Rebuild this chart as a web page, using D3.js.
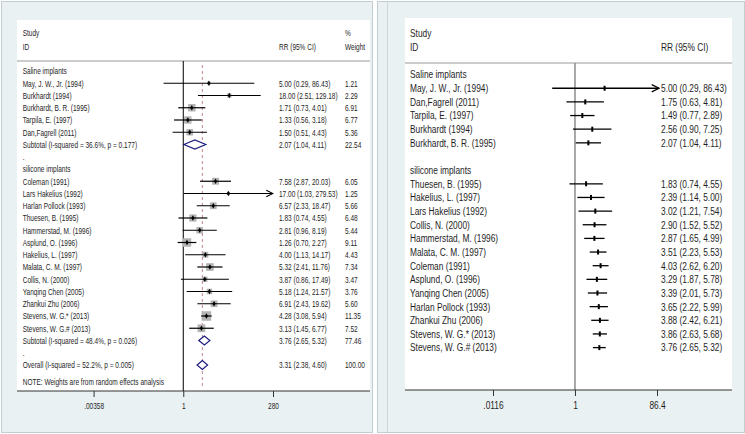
<!DOCTYPE html>
<html>
<head>
<meta charset="utf-8">
<script src="https://cdn.jsdelivr.net/npm/d3@7"></script>
<style>
  body { margin: 0; background: #fff; }
  text { font-family: "Liberation Sans", Arial, sans-serif; fill: #1e1e1e; }
</style>
</head>
<body>
<div id="chart"></div>
<script>
// Left panel: forest plot by implant type
var leftLabels = ["Saline implants", "May, J. W., Jr. (1994)", "Burkhardt (1994)", "Burkhardt, B. R. (1995)",
  "Tarpila, E. (1997)", "Dan,Fagrell (2011)", "Subtotal  (I-squared = 36.6%, p = 0.177)", ".",
  "silicone  implants", "Coleman (1991)", "Lars Hakelius (1992)", "Harlan Pollock (1993)", "Thuesen, B. (1995)",
  "Hammerstad, M. (1996)", "Asplund, O. (1996)", "Hakelius, L. (1997)", "Malata, C. M. (1997)", "Collis, N. (2000)",
  "Yanqing Chen (2005)", "Zhankui Zhu (2006)", "Stevens, W. G.* (2013)", "Stevens, W. G.# (2013)",
  "Subtotal  (I-squared = 48.4%, p = 0.026)", ".", "Overall  (I-squared = 52.2%, p = 0.005)"];
var leftKind = ["head", "study", "study", "study", "study", "study", "sub", "gap",
  "head", "study", "study", "study", "study", "study", "study", "study", "study", "study",
  "study", "study", "study", "study", "sub", "gap", "sub"];
var leftRR = [null, 5.00, 18.00, 1.71, 1.33, 1.50, 2.07, null,
  null, 7.58, 17.00, 6.57, 1.83, 2.81, 1.26, 4.00, 5.32, 3.87, 5.18, 6.91, 4.28, 3.13, 3.76, null, 3.31];
var leftLo = [null, 0.29, 2.51, 0.73, 0.56, 0.51, 1.04, null,
  null, 2.87, 1.03, 2.33, 0.74, 0.96, 0.70, 1.13, 2.41, 0.86, 1.24, 2.43, 3.08, 1.45, 2.65, null, 2.38];
var leftHi = [null, 86.43, 129.18, 4.01, 3.18, 4.43, 4.11, null,
  null, 20.03, 279.53, 18.47, 4.55, 8.19, 2.27, 14.17, 11.76, 17.49, 21.57, 19.62, 5.94, 6.77, 5.32, null, 4.60];
var leftWeight = [null, 1.21, 2.29, 6.91, 6.77, 5.36, 22.54, null,
  null, 6.05, 1.25, 5.66, 6.48, 5.44, 9.11, 4.43, 7.34, 3.47, 3.76, 5.60, 11.35, 7.52, 77.46, null, 100.00];
var leftTicks = [0.00358, 1, 280];
var leftTickLabels = [".00358", "1", "280"];
var overallRR = 3.31;

// Right panel: cumulative estimates
var rightLabels = ["Saline implants", "May, J. W., Jr. (1994)", "Dan,Fagrell (2011)", "Tarpila, E. (1997)",
  "Burkhardt (1994)", "Burkhardt, B. R. (1995)", "", "silicone  implants", "Thuesen, B. (1995)",
  "Hakelius, L. (1997)", "Lars Hakelius (1992)", "Collis, N. (2000)", "Hammerstad, M. (1996)",
  "Malata, C. M. (1997)", "Coleman (1991)", "Asplund, O. (1996)", "Yanqing Chen (2005)",
  "Harlan Pollock (1993)", "Zhankui Zhu (2006)", "Stevens, W. G.* (2013)", "Stevens, W. G.# (2013)"];
var rightRR = [null, 5.00, 1.75, 1.49, 2.56, 2.07, null, null, 1.83, 2.39, 3.02, 2.90, 2.87, 3.51, 4.03,
  3.29, 3.39, 3.65, 3.88, 3.86, 3.76];
var rightLo = [null, 0.29, 0.63, 0.77, 0.90, 1.04, null, null, 0.74, 1.14, 1.21, 1.52, 1.65, 2.23, 2.62,
  1.87, 2.01, 2.22, 2.42, 2.63, 2.65];
var rightHi = [null, 86.43, 4.81, 2.89, 7.25, 4.11, null, null, 4.55, 5.00, 7.54, 5.52, 4.99, 5.53, 6.20,
  5.78, 5.73, 5.99, 6.21, 5.68, 5.32];
var rightTicks = [0.0116, 1, 86.4];
var rightTickLabels = [".0116", "1", "86.4"];

var W = 745, H = 434;
var bg = "#eaf1f3";
var f2 = d3.format(".2f");

var svg = d3.select("#chart").append("svg")
  .attr("width", W).attr("height", H);

svg.append("defs").append("marker")
  .attr("id", "arrow")
  .attr("viewBox", "0 0 10 10").attr("refX", 9).attr("refY", 5)
  .attr("markerWidth", 7).attr("markerHeight", 7)
  .attr("orient", "auto")
  .append("path").attr("d", "M1,1 L9,5 L1,9").attr("fill", "none").attr("stroke", "#000").attr("stroke-width", 1.3);

// condensed text helper
function txt(g, x, y, s, size, sx, anchor) {
  return g.append("text")
    .attr("transform", `translate(${x},${y}) scale(${sx},1)`)
    .attr("dy", "0.35em")
    .attr("font-size", size + "px")
    .attr("text-anchor", anchor || "start")
    .text(s);
}

function panel(x0, x1, px0, px1, py0, py1) {
  var g = svg.append("g");
  g.append("rect").attr("x", x0 + 0.5).attr("y", 1.5).attr("width", x1 - x0 - 1).attr("height", H - 3)
    .attr("fill", bg).attr("stroke", "#c3ccd0");
  g.append("rect").attr("x", px0).attr("y", py0).attr("width", px1 - px0).attr("height", py1 - py0)
    .attr("fill", "#fff");
  return g;
}

// ---------- left panel ----------
var L = { px0: 17, px1: 370, py0: 20, py1: 391, head: 61 };
var gl = panel(1, 373, L.px0, L.px1, L.py0, L.py1);
var lfs = 9.6, lsx = 0.68;

var xL = d3.scaleLog().domain([0.00358, 280]).range([93.6, 273]);
var yL = d3.scaleLinear().domain([0, 24]).range([71, 365]);

gl.append("line").attr("x1", L.px0).attr("x2", L.px1).attr("y1", L.head).attr("y2", L.head)
  .attr("stroke", "#9a9a9a");

txt(gl, 22.7, 33, "Study", lfs, lsx);
txt(gl, 22.7, 47, "ID", lfs, lsx);
txt(gl, 279, 47, "RR (95% CI)", lfs, lsx);
txt(gl, 345, 33, "%", lfs, lsx);
txt(gl, 345, 47, "Weight", lfs, lsx);

// null line and overall line
gl.append("line").attr("x1", xL(1)).attr("x2", xL(1)).attr("y1", L.head).attr("y2", L.py1)
  .attr("stroke", "#000");
gl.append("line").attr("x1", xL(overallRR)).attr("x2", xL(overallRR)).attr("y1", L.head + 4).attr("y2", L.py1 - 4)
  .attr("stroke", "#c4868c").attr("stroke-dasharray", "3,3");

leftLabels.forEach(function(lab, i) {
  var y = yL(i);
  txt(gl, 22.7, y, lab, lfs, lsx);
  if (leftRR[i] == null) return;
  txt(gl, 279, y, f2(leftRR[i]) + " (" + f2(leftLo[i]) + ", " + f2(leftHi[i]) + ")", lfs, lsx);
  txt(gl, 345, y, f2(leftWeight[i]), lfs, lsx);
  if (leftKind[i] == "sub") {
    var a = xL(leftLo[i]), b = xL(leftHi[i]), c = xL(leftRR[i]);
    gl.append("path")
      .attr("d", `M${a},${y} L${c},${y - 4.5} L${b},${y} L${c},${y + 4.5} Z`)
      .attr("fill", "#fff").attr("stroke", "#1d1d80").attr("stroke-width", 1.2);
  } else {
    var side = 2.82 * Math.sqrt(leftWeight[i]);
    gl.append("rect")
      .attr("x", xL(leftRR[i]) - side / 2).attr("y", y - side / 2)
      .attr("width", side).attr("height", side)
      .attr("fill", "#b4b4b4");
    var hiX = xL(leftHi[i]);
    var arrow = hiX >= xL.range()[1] - 0.5;
    gl.append("line")
      .attr("x1", xL(leftLo[i])).attr("x2", hiX)
      .attr("y1", y).attr("y2", y)
      .attr("stroke", "#000").attr("stroke-width", 1.2)
      .attr("marker-end", arrow ? "url(#arrow)" : null);
    gl.append("path")
      .attr("transform", `translate(${xL(leftRR[i])},${y})`)
      .attr("d", d3.symbol(d3.symbolDiamond, 9)())
      .attr("fill", "#000");
  }
});

txt(gl, 22.7, 382, "NOTE: Weights are from random effects analysis", lfs, lsx);

gl.append("line").attr("x1", L.px0).attr("x2", L.px1).attr("y1", L.py1).attr("y2", L.py1)
  .attr("stroke", "#333");
var axL = gl.append("g").attr("transform", `translate(0,${L.py1})`)
  .call(d3.axisBottom(xL).tickValues(leftTicks).tickFormat(function(d, i) { return leftTickLabels[i]; })
    .tickSize(6).tickPadding(5));
axL.select(".domain").remove();
axL.selectAll(".tick line").attr("stroke", "#333");
axL.selectAll(".tick text").attr("font-size", lfs + "px").attr("fill", "#1e1e1e")
  .attr("font-family", "Liberation Sans, Arial, sans-serif")
  .attr("transform", "scale(" + lsx + ",1)")
  .attr("x", 0);

// ---------- right panel ----------
var R = { px0: 405, px1: 732, py0: 18, py1: 390, head: 63 };
var gr = panel(377, 745, R.px0, R.px1, R.py0, R.py1);
gr.append("line").attr("x1", 387.5).attr("x2", 387.5).attr("y1", 2).attr("y2", H - 2)
  .attr("stroke", "#cdd5d9");
var rfs = 11, rsx = 0.76;

var xR = d3.scaleLog().domain([0.0116, 86.4]).range([493, 657]);
var yR = d3.scaleLinear().domain([0, 20]).range([74.6, 347.6]);

gr.append("line").attr("x1", R.px0).attr("x2", R.px1).attr("y1", R.head).attr("y2", R.head)
  .attr("stroke", "#9a9a9a");
txt(gr, 410, 33, "Study", rfs, rsx);
txt(gr, 410, 47, "ID", rfs, rsx);
txt(gr, 661, 47, "RR (95% CI)", rfs, rsx);

gr.append("line").attr("x1", xR(1)).attr("x2", xR(1)).attr("y1", R.head).attr("y2", R.py1)
  .attr("stroke", "#8c8c8c").attr("stroke-width", 1.5);

rightLabels.forEach(function(lab, i) {
  var y = yR(i);
  if (lab) txt(gr, 410, y, lab, rfs, rsx);
  if (rightRR[i] == null) return;
  txt(gr, 661, y, f2(rightRR[i]) + " (" + f2(rightLo[i]) + ", " + f2(rightHi[i]) + ")", rfs, rsx);
  var hiX = xR(rightHi[i]);
  var arrow = rightHi[i] > xR.domain()[1];
  gr.append("line")
    .attr("x1", xR(rightLo[i])).attr("x2", arrow ? hiX + 2 : hiX)
    .attr("y1", y).attr("y2", y)
    .attr("stroke", "#000").attr("stroke-width", 1.3)
    .attr("marker-end", arrow ? "url(#arrow)" : null);
  gr.append("rect")
    .attr("x", xR(rightRR[i]) - 1).attr("y", y - 2.5)
    .attr("width", 2).attr("height", 5)
    .attr("fill", "#000");
});

gr.append("line").attr("x1", R.px0).attr("x2", R.px1).attr("y1", R.py1).attr("y2", R.py1)
  .attr("stroke", "#333");
var axR = gr.append("g").attr("transform", `translate(0,${R.py1})`)
  .call(d3.axisBottom(xR).tickValues(rightTicks).tickFormat(function(d, i) { return rightTickLabels[i]; })
    .tickSize(6).tickPadding(5));
axR.select(".domain").remove();
axR.selectAll(".tick line").attr("stroke", "#333");
axR.selectAll(".tick text").attr("font-size", rfs + "px").attr("fill", "#1e1e1e")
  .attr("font-family", "Liberation Sans, Arial, sans-serif")
  .attr("transform", "scale(" + rsx + ",1)");
</script>
</body>
</html>
